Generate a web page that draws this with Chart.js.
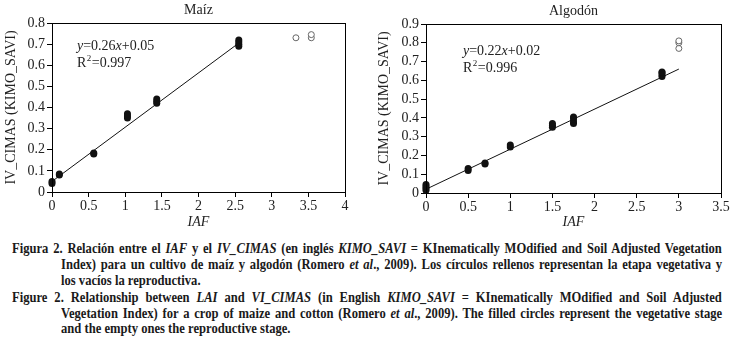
<!DOCTYPE html>
<html>
<head>
<meta charset="utf-8">
<script src="https://cdn.jsdelivr.net/npm/chart.js@4.4.1/dist/chart.umd.min.js"></script>
<style>
  body { margin: 0; background: #fff; width: 737px; height: 342px; overflow: hidden; position: relative; }
  canvas { position: absolute; top: 0; }
  #chartMaiz { left: 0; }
  #chartAlgodon { left: 368px; }
  .cap { position: absolute; font-family: "Liberation Serif", serif; font-weight: bold; font-size: 15px;
         color: #1a1a1a; white-space: nowrap; transform-origin: 0 0; transform: scaleX(0.84); line-height: 16px; }
  .just { text-align: justify; text-align-last: justify; white-space: normal; }
</style>
</head>
<body>
<canvas id="chartMaiz" width="368" height="235"></canvas>
<canvas id="chartAlgodon" width="369" height="235"></canvas>

<div class="cap just" style="left:12px; top:240px; width:845px;">Figura 2. Relación entre el <i>IAF</i> y el <i>IV_CIMAS</i> (en inglés <i>KIMO_SAVI</i> = KInematically MOdified and Soil Adjusted Vegetation</div>
<div class="cap just" style="left:61px; top:256px; width:787px;">Index) para un cultivo de maíz y algodón (Romero <i>et al</i>., 2009). Los círculos rellenos representan la etapa vegetativa y</div>
<div class="cap" style="left:61px; top:272px;">los vacíos la reproductiva.</div>
<div class="cap just" style="left:12px; top:289px; width:845px;">Figure 2. Relationship between <i>LAI</i> and <i>VI_CIMAS</i> (in English <i>KIMO_SAVI</i> = KInematically MOdified and Soil Adjusted</div>
<div class="cap just" style="left:61px; top:305px; width:787px;">Vegetation Index) for a crop of maize and cotton (Romero <i>et al</i>., 2009). The filled circles represent the vegetative stage</div>
<div class="cap" style="left:61px; top:320px;">and the empty ones the reproductive stage.</div>

<script>
// Datos de maíz (IAF vs IV_CIMAS)
const maizFilledX = [0, 0, 0.1, 0.1, 0.57, 0.57, 1.03, 1.03, 1.03, 1.43, 1.43, 1.43, 2.55, 2.55, 2.55, 2.55];
const maizFilledY = [0.04, 0.05, 0.08, 0.085, 0.18, 0.185, 0.35, 0.36, 0.37, 0.42, 0.43, 0.44, 0.69, 0.70, 0.71, 0.72];
const maizEmptyX = [3.33, 3.54, 3.54];
const maizEmptyY = [0.73, 0.73, 0.745];
const maizLineX = [0, 2.55];
const maizLineY = [0.05, 0.705];

// Datos de algodón
const algFilledX = [0, 0, 0, 0, 0.5, 0.5, 0.7, 0.7, 1, 1, 1.5, 1.5, 1.5, 1.75, 1.75, 1.75, 1.75, 2.8, 2.8, 2.8, 2.8];
const algFilledY = [0.015, 0.025, 0.035, 0.045, 0.12, 0.13, 0.155, 0.16, 0.245, 0.255, 0.35, 0.36, 0.37, 0.37, 0.38, 0.395, 0.405, 0.62, 0.63, 0.64, 0.645];
const algEmptyX = [3.0, 3.0, 3.0];
const algEmptyY = [0.77, 0.80, 0.81];
const algLineX = [0, 3.0];
const algLineY = [0.02, 0.66];

// Ejes
const maizTitle = 'Maíz';
const algTitle = 'Algodón';
const yTitle = 'IV_CIMAS (KIMO_SAVI)';
const xTitle = 'IAF';

const FONT = '"Liberation Serif", serif';
const TEXT = '#222';

function toPoints(xs, ys) {
    return xs.map((x, i) => ({ x: x, y: ys[i] }));
}

// Marco, titulo y ecuacion
function decorPlugin(title, titleY, eqA, eqB, r2, eqX, eqY) {
    return {
        id: 'decor',
        afterDraw(chart) {
            const ctx = chart.ctx;
            const a = chart.chartArea;
            ctx.save();
            ctx.strokeStyle = '#000';
            ctx.lineWidth = 1;
            ctx.strokeRect(a.left + 0.5, a.top + 0.5, a.right - a.left, a.bottom - a.top);

            ctx.fillStyle = TEXT;
            ctx.textBaseline = 'middle';
            ctx.textAlign = 'center';
            ctx.font = '14px ' + FONT;
            ctx.fillText(title, (a.left + a.right) / 2, titleY);

            // y=ax+b con letras en cursiva
            ctx.textAlign = 'left';
            const parts = [['italic ', 'y'], ['', '=' + eqA], ['italic ', 'x'], ['', '+' + eqB]];
            let x = eqX;
            parts.forEach(p => {
                ctx.font = p[0] + '14px ' + FONT;
                ctx.fillText(p[1], x, eqY);
                x += ctx.measureText(p[1]).width;
            });
            ctx.font = '14px ' + FONT;
            ctx.fillText('R', eqX, eqY + 17);
            let rx = eqX + ctx.measureText('R').width;
            ctx.font = '9px ' + FONT;
            ctx.fillText('2', rx + 0.5, eqY + 13);
            rx += ctx.measureText('2').width + 1;
            ctx.font = '14px ' + FONT;
            ctx.fillText('=' + r2, rx, eqY + 17);
            ctx.restore();
        }
    };
}

function makeChart(id, opts) {
    return new Chart(document.getElementById(id), {
        type: 'scatter',
        data: {
            datasets: [
                {
                    data: toPoints(opts.lineX, opts.lineY),
                    showLine: true,
                    borderColor: '#111',
                    borderWidth: 1,
                    pointRadius: 0,
                    clip: false,
                    order: 3
                },
                {
                    data: toPoints(opts.filledX, opts.filledY),
                    backgroundColor: '#111',
                    borderColor: '#111',
                    pointRadius: 3.5,
                    borderWidth: 0,
                    clip: false,
                    order: 1
                },
                {
                    data: toPoints(opts.emptyX, opts.emptyY),
                    backgroundColor: '#fff',
                    borderColor: '#666',
                    borderWidth: 1,
                    pointRadius: 3,
                    clip: false,
                    order: 2
                }
            ]
        },
        options: {
            responsive: false,
            animation: false,
            events: [],
            layout: { padding: { top: opts.top, right: opts.right, left: 0, bottom: 0 } },
            plugins: { legend: { display: false }, tooltip: { enabled: false } },
            scales: {
                x: {
                    type: 'linear',
                    min: 0,
                    max: opts.xMax,
                    afterFit(scale) { scale.height = opts.xHeight; },
                    ticks: {
                        stepSize: 0.5,
                        autoSkip: false,
                        maxRotation: 0,
                        color: TEXT,
                        padding: 1,
                        font: { family: FONT, size: 14 },
                        callback: v => String(Math.round(v * 10) / 10)
                    },
                    grid: { drawOnChartArea: false, drawTicks: true, tickLength: 5, color: '#000' },
                    border: { color: '#000', width: 1 },
                    title: {
                        display: true,
                        text: xTitle,
                        color: TEXT,
                        padding: { top: 0, bottom: 4 },
                        font: { family: FONT, size: 14, style: 'italic' }
                    }
                },
                y: {
                    min: 0,
                    max: opts.yMax,
                    afterFit(scale) { scale.width = opts.yWidth; },
                    ticks: {
                        stepSize: 0.1,
                        autoSkip: false,
                        color: TEXT,
                        padding: 2,
                        font: { family: FONT, size: 14 },
                        callback: v => String(Math.round(v * 10) / 10)
                    },
                    grid: { drawOnChartArea: false, drawTicks: true, tickLength: 5, color: '#000' },
                    border: { color: '#000', width: 1 },
                    title: {
                        display: true,
                        text: yTitle,
                        color: TEXT,
                        padding: { top: opts.yTitlePad, bottom: 0 },
                        font: { family: FONT, size: 14 }
                    }
                }
            }
        },
        plugins: [decorPlugin(opts.title, opts.titleY, opts.eqA, opts.eqB, opts.r2, opts.eqX, opts.eqY)]
    });
}

makeChart('chartMaiz', {
    filledX: maizFilledX, filledY: maizFilledY,
    emptyX: maizEmptyX, emptyY: maizEmptyY,
    lineX: maizLineX, lineY: maizLineY,
    xMax: 4, yMax: 0.8,
    top: 23, right: 23, yWidth: 52, xHeight: 43, yTitlePad: 3,
    title: maizTitle, titleY: 10,
    eqA: '0.26', eqB: '0.05', r2: '0.997', eqX: 77, eqY: 46
});

makeChart('chartAlgodon', {
    filledX: algFilledX, filledY: algFilledY,
    emptyX: algEmptyX, emptyY: algEmptyY,
    lineX: algLineX, lineY: algLineY,
    xMax: 3.5, yMax: 0.9,
    top: 24, right: 16, yWidth: 58, xHeight: 42, yTitlePad: 8,
    title: algTitle, titleY: 11,
    eqA: '0.22', eqB: '0.02', r2: '0.996', eqX: 95, eqY: 51
});
</script>
</body>
</html>
